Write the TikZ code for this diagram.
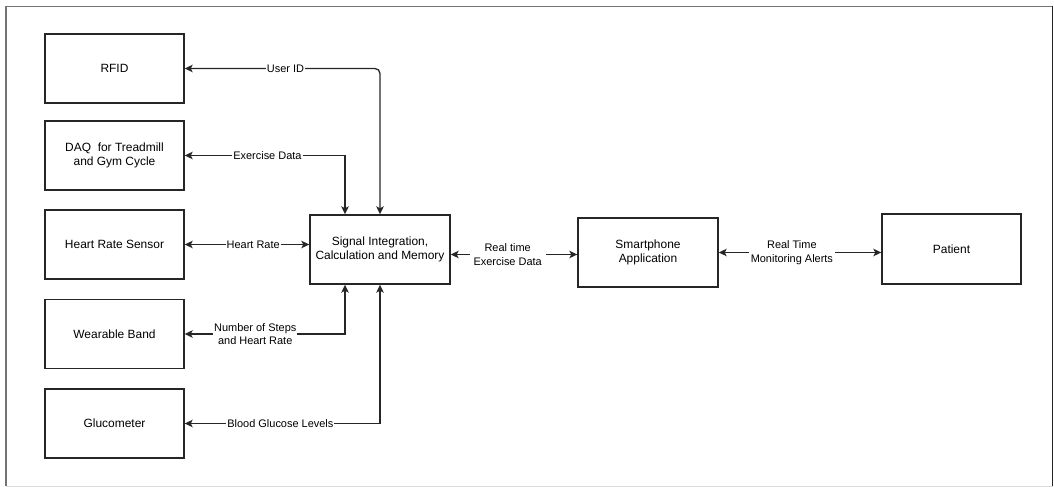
\documentclass[tikz,border=0pt]{standalone}
\usepackage{fontspec}
\setmainfont{Liberation Sans}
\usetikzlibrary{arrows.meta}

\tikzset{
  blk/.style={draw=black!85, line width=1.4bp, minimum width=139bp, minimum height=69bp,
    align=center, font=\fontsize{12}{14}\selectfont, inner sep=2bp},
  lbl/.style={fill=white, align=center, font=\fontsize{11}{13.5}\selectfont, inner sep=1bp},
  link/.style={draw=black!85, line width=1.3bp,
    {Stealth[length=8bp,width=7.5bp,inset=2bp]}-{Stealth[length=8bp,width=7.5bp,inset=2bp]}},
  frame/.style={line width=1.5bp}
}

\begin{document}
\begin{tikzpicture}[x=1bp, y=-1bp]
  \useasboundingbox (0,0) rectangle (1054,487);

  % outer frame
  \draw[frame, draw=black!55] (6,486) -- (6,6.5) -- (1052.5,6.5);
  \draw[frame, draw=black!85] (1052.5,6.5) -- (1052.5,486);
  \draw[line width=0.6bp, draw=black!15] (6,486) -- (1052.5,486);

  % input devices
  \node[blk] (rfid) at (114.5,68.5)  {RFID};
  \node[blk] (daq)  at (114.5,155.5) {DAQ\ \ for Treadmill\\and Gym Cycle};
  \node[blk] (hrs)  at (114.5,244.5) {Heart Rate Sensor};
  \node[blk] (band) at (114.5,334)   {Wearable Band};
  \node[blk] (gluc) at (114.5,423.5) {Glucometer};

  % processing, app and patient
  \node[blk, minimum width=140bp] (sig) at (380,249.5) {Signal Integration,\\Calculation and Memory};
  \node[blk, minimum width=140bp] (app) at (648,252.5) {Smartphone\\Application};
  \node[blk, minimum height=70bp] (pat) at (951.5,249) {Patient};

  % device links
  \draw[link, rounded corners=5bp] (rfid.east) -| (sig.north)
    node[lbl, pos=0.258] {User ID};
  \draw[link] (daq.east) -| ([xshift=-35bp]sig.north)
    node[lbl, pos=0.258] {Exercise Data};
  \draw[link] (hrs.east) -- (hrs.east -| sig.west)
    node[lbl, pos=0.55] {Heart Rate};
  \draw[link] (band.east) -| ([xshift=-35bp]sig.south)
    node[lbl, pos=0.22] {Number of Steps\\and Heart Rate};
  \draw[link] (gluc.east) -| (sig.south)
    node[lbl, pos=0.245] {Blood Glucose Levels};

  % output links
  \draw[link] ([yshift=-5bp]sig.east) -- ([yshift=-5bp]sig.east -| app.west)
    node[lbl, pos=0.45, inner xsep=4bp] {Real time\\Exercise Data};
  \draw[link] (app.east) -- (app.east -| pat.west)
    node[lbl, pos=0.45, inner xsep=2bp] {Real Time\\Monitoring Alerts};
\end{tikzpicture}
\end{document}
